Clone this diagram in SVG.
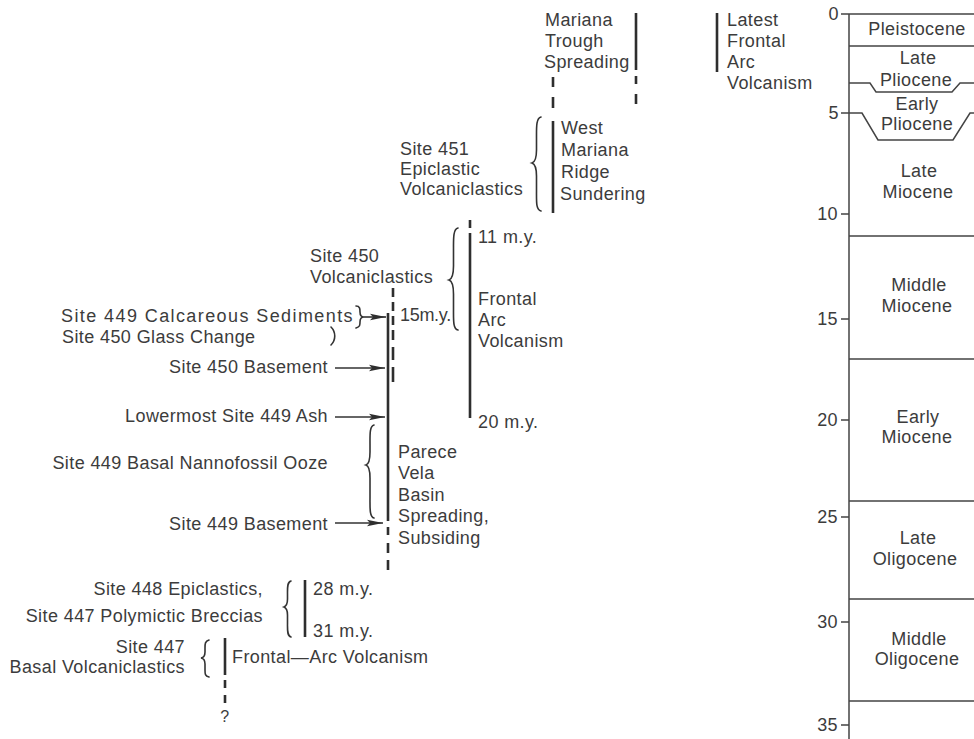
<svg xmlns="http://www.w3.org/2000/svg" width="974" height="739" viewBox="0 0 974 739">
<defs>
<style>
.t{font-family:"Liberation Sans",Arial,Helvetica,sans-serif;font-size:18px;fill:#3c3c3c;letter-spacing:0.4px}
.e{text-anchor:end}
.m{text-anchor:middle}
.ln{stroke:#2e2e2e;stroke-width:2.6;fill:none}
.br{stroke:#333;stroke-width:1.6;fill:none;stroke-linecap:round}
.ar{stroke:#333;stroke-width:1.6;fill:none}
.ax{stroke:#444;stroke-width:1.5;fill:none}
</style>
<marker id="ah" markerUnits="userSpaceOnUse" markerWidth="18" markerHeight="8" refX="16" refY="4" orient="auto">
<path d="M0,0.8 L16,4 L0,7.2 L3,4 z" fill="#2e2e2e"/>
</marker>
</defs>
<rect width="974" height="739" fill="#fff"/>

<g id="connectors">
<path class="ln" d="M636,13 V70 M636,76 V84 M636,94 V104"/>
<path class="ln" d="M717,13 V72"/>
<path class="ln" d="M553,77 V87 M553,97 V108 M553,121 V213"/>
<path class="ln" d="M470,220 V228 M470,233 V418"/>
<path class="ln" d="M393,288 V297 M393,302 V311 M393,316 V325 M393,330 V340 M393,347 V360 M393,367 V382"/>
<path class="ln" d="M388,313 V521 M388,527 V535 M388,543 V553 M388,560 V570"/>
<path class="ln" d="M305,580 V637"/>
<path class="ln" d="M225,638 V675 M225,680 V688 M225,695 V703"/>
<line class="ar" x1="364" y1="317" x2="386" y2="317" marker-end="url(#ah)"/>
<line class="ar" x1="335" y1="368" x2="385" y2="368" marker-end="url(#ah)"/>
<line class="ar" x1="335" y1="417" x2="385" y2="417" marker-end="url(#ah)"/>
<line class="ar" x1="335" y1="523" x2="383" y2="523" marker-end="url(#ah)"/>
<path class="br" d="M541,117 C536,118 536.5,128 536.5,138 L536.5,150 C536.5,158 535,162 532,163 C535,164 536.5,168 536.5,176 L536.5,192 C536.5,202 536,210 541,211"/>
<path class="br" d="M458,228 C453,229 453.5,239 453.5,250 L453.5,266 C453.5,275 452,279 449,280 C452,281 453.5,285 453.5,294 L453.5,310 C453.5,320 453,329 458,330"/>
<path class="br" d="M356,306 C360,306 360,309 360,312 C360,315 361,317 364,317 C361,317 360,319 360,322 C360,325 360,327 356,328"/>
<path class="br" d="M331,327 C336,332 336,340 331,345"/>
<path class="br" d="M374,425 C369.5,426 370,435 370,444 L370,452 C370,460 369,464 366,465 C369,466 370,470 370,478 L370,498 C370,508 369.5,517 374,518"/>
<path class="br" d="M291,581 C287,582 287.5,588 287.5,594 L287.5,599 C287.5,604 286.5,606 284,607 C286.5,608 287.5,610 287.5,615 L287.5,624 C287.5,630 287,636 291,637"/>
<path class="br" d="M209,640 C205,641 205,644 205,648 L205,652 C205,656 204,657.5 201,658 C204,658.5 205,660 205,664 L205,670 C205,674 205,676 209,677"/>
</g>

<g id="mariana-trough">
<text class="t" x="545" y="26">Mariana</text>
<text class="t" x="545" y="47">Trough</text>
<text class="t" x="544" y="68">Spreading</text>
</g>
<g id="latest-frontal-arc">
<text class="t" x="727" y="26">Latest</text>
<text class="t" x="727" y="47">Frontal</text>
<text class="t" x="727" y="68">Arc</text>
<text class="t" x="727" y="89">Volcanism</text>
</g>
<g id="site451">
<text class="t" x="400" y="155">Site 451</text>
<text class="t" x="400" y="175">Epiclastic</text>
<text class="t" x="400" y="195">Volcaniclastics</text>
</g>
<g id="west-mariana">
<text class="t" x="561" y="134">West</text>
<text class="t" x="561" y="156">Mariana</text>
<text class="t" x="561" y="178">Ridge</text>
<text class="t" x="560" y="200">Sundering</text>
</g>
<g id="site450-volc">
<text class="t" x="310" y="262">Site 450</text>
<text class="t" x="310" y="283">Volcaniclastics</text>
</g>
<g id="frontal-arc-11-20">
<text class="t" x="478" y="243">11 m.y.</text>
<text class="t" x="478" y="305">Frontal</text>
<text class="t" x="478" y="326">Arc</text>
<text class="t" x="478" y="347">Volcanism</text>
<text class="t" x="478" y="428">20 m.y.</text>
</g>
<g id="age15">
<text class="t" x="400" y="321" style="letter-spacing:-0.3px">15m.y.</text>
</g>
<g id="site449-calc">
<text class="t" x="61" y="322" textLength="292" lengthAdjust="spacing">Site 449 Calcareous Sediments</text>
<text class="t" x="62" y="343">Site 450 Glass Change</text>
</g>
<g id="site450-basement"><text class="t e" x="328" y="373">Site 450 Basement</text></g>
<g id="site449-ash"><text class="t e" x="328" y="422">Lowermost Site 449 Ash</text></g>
<g id="site449-ooze"><text class="t e" x="328" y="469">Site 449 Basal Nannofossil Ooze</text></g>
<g id="site449-basement"><text class="t e" x="328" y="530">Site 449 Basement</text></g>
<g id="parece-vela">
<text class="t" x="398" y="458">Parece</text>
<text class="t" x="398" y="479">Vela</text>
<text class="t" x="398" y="501">Basin</text>
<text class="t" x="398" y="522">Spreading,</text>
<text class="t" x="398" y="544">Subsiding</text>
</g>
<g id="site448">
<text class="t e" x="263" y="595">Site 448 Epiclastics,</text>
<text class="t e" x="263" y="622">Site 447 Polymictic Breccias</text>
</g>
<g id="age28-31">
<text class="t" x="313" y="595">28 m.y.</text>
<text class="t" x="313" y="637">31 m.y.</text>
</g>
<g id="site447">
<text class="t e" x="185" y="653">Site 447</text>
<text class="t e" x="185" y="673">Basal Volcaniclastics</text>
</g>
<g id="frontal-arc-447">
<text class="t" x="232" y="663">Frontal—Arc Volcanism</text>
<text class="t m" x="225" y="722" style="font-size:16px">?</text>
</g>

<g id="timescale">
<path class="ax" d="M849,14 V739 M849,14 H974 M849,46 H974 M849,83 H870 L876,92 H952 L960,83 H974 M849,113 H862 L878,140 H953 L970,113 H974 M849,236 H974 M849,359 H974 M849,501 H974 M849,599 H974 M849,701 H974"/>
<path class="ax" d="M841,14 H849 M841,113 H849 M841,214 H849 M841,319 H849 M841,420 H849 M841,517 H849 M841,622 H849 M841,725 H849"/>
<text class="t e" x="839" y="20">0</text>
<text class="t e" x="839" y="119">5</text>
<text class="t e" x="838" y="220">10</text>
<text class="t e" x="838" y="325">15</text>
<text class="t e" x="838" y="426">20</text>
<text class="t e" x="838" y="523">25</text>
<text class="t e" x="838" y="628">30</text>
<text class="t e" x="838" y="731">35</text>
<text class="t m" x="917" y="35">Pleistocene</text>
<text class="t m" x="918" y="64">Late</text>
<text class="t m" x="916" y="86">Pliocene</text>
<text class="t m" x="917" y="110">Early</text>
<text class="t m" x="917" y="130">Pliocene</text>
<text class="t m" x="919" y="177">Late</text>
<text class="t m" x="918" y="198">Miocene</text>
<text class="t m" x="919" y="291">Middle</text>
<text class="t m" x="917" y="312">Miocene</text>
<text class="t m" x="918" y="423">Early</text>
<text class="t m" x="917" y="443">Miocene</text>
<text class="t m" x="918" y="544">Late</text>
<text class="t m" x="915" y="565">Oligocene</text>
<text class="t m" x="919" y="645">Middle</text>
<text class="t m" x="917" y="665">Oligocene</text>
</g>
</svg>
